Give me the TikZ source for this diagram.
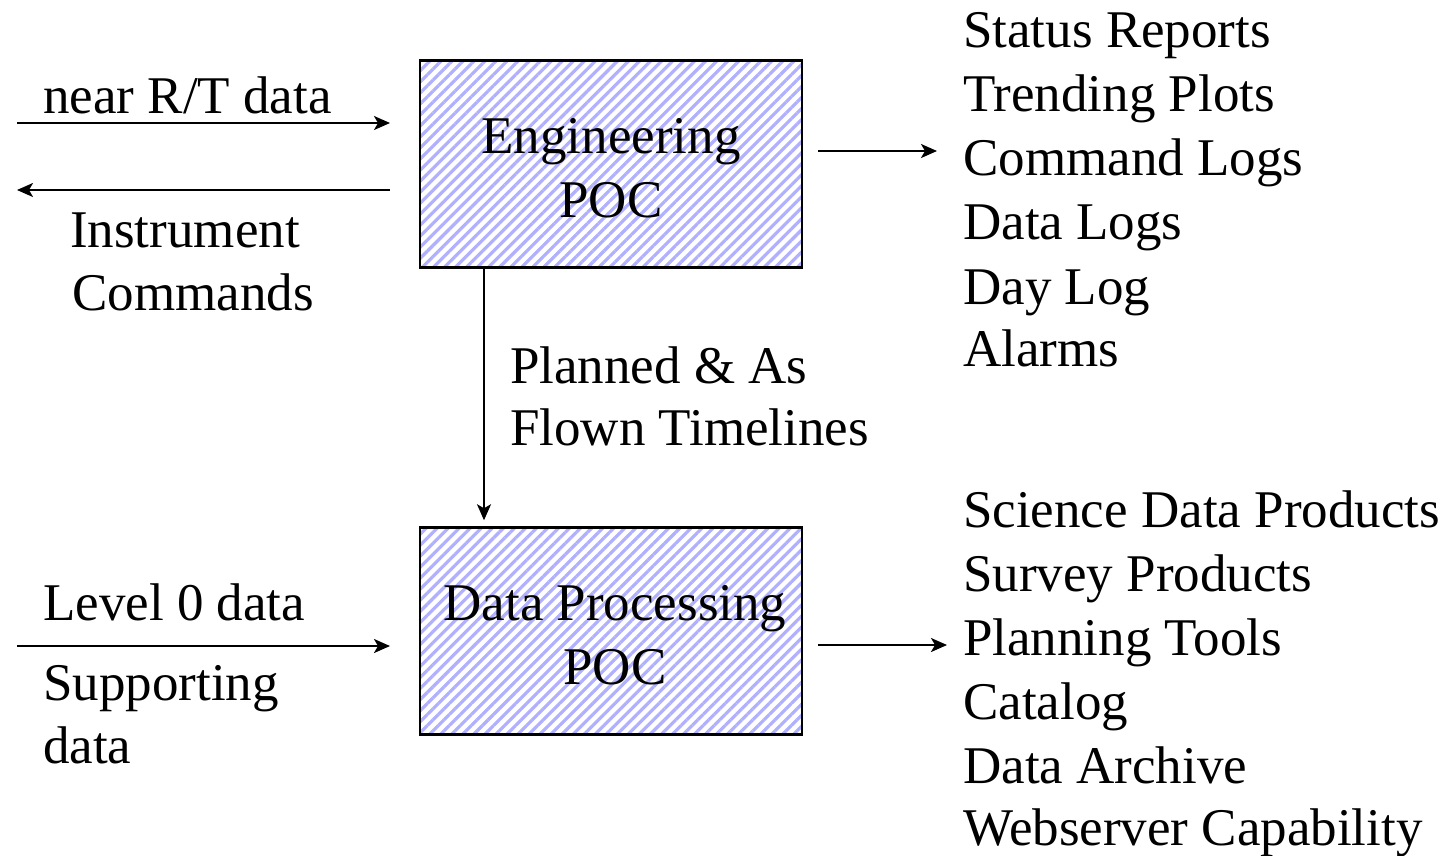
\documentclass[tikz,border=0pt]{standalone}
\usepackage{fontspec}
\setmainfont{Liberation Serif}
\usetikzlibrary{arrows.meta,patterns.meta}
\definecolor{hatch}{RGB}{176,176,255}
\tikzset{
  lbl/.style={anchor=base west,inner sep=0pt,font=\fontsize{53}{64}\selectfont},
  clbl/.style={anchor=base,inner sep=0pt,font=\fontsize{53}{64}\selectfont},
  pocbox/.style={draw,line width=2.5pt,minimum width=382pt,minimum height=207pt,inner sep=0pt,
    pattern={Lines[angle=45,distance=7.8pt,line width=3.2pt]},pattern color=hatch},
  arr/.style={line width=2pt,-{Stealth[length=16pt,width=14pt,inset=4pt]}}
}
\begin{document}
\begin{tikzpicture}[x=1pt,y=-1pt]
\useasboundingbox (0,0) rectangle (1445,855);
% boxes
\node[pocbox] (eng) at (611,164) {};
\node[pocbox] (dp) at (611,631) {};
\node[clbl] (engA) at (611,153) {Engineering};
\node[clbl] (engB) at (611,217) {POC};
\node[clbl] (dpA) at (615,620) {Data Processing};
\node[clbl] (dpB) at (615,684) {POC};
% left upper
\coordinate (inA) at (17,123);
\coordinate (inB) at (390,123);
\coordinate (cmA) at (390,190);
\coordinate (cmB) at (17,190);
\draw[arr] (inA) -- (inB);
\draw[arr] (cmA) -- (cmB);
\node[lbl] (nrt) at (43,113) {near R/T data};
\node[lbl] (ic1) at (70,247) {Instrument};
\node[lbl] (ic2) at (72,310) {Commands};
% right upper
\coordinate (roA) at (818,151);
\coordinate (roB) at (937,151);
\draw[arr] (roA) -- (roB);
\node[lbl] (r1) at (963,47) {Status Reports};
\node[lbl] (r2) at (963,111) {Trending Plots};
\node[lbl] (r3) at (963,175) {Command Logs};
\node[lbl] (r4) at (963,239) {Data Logs};
\node[lbl] (r5) at (963,304) {Day Log};
\node[lbl] (r6) at (963,366) {Alarms};
% vertical
\coordinate (vx) at (484,0);
\draw[arr,shorten >=6pt] (vx |- eng.south) -- (vx |- dp.north);
\node[lbl] (pl1) at (510,383) {Planned \& As};
\node[lbl] (pl2) at (510,445) {Flown Timelines};
% left lower
\coordinate (lvA) at (17,646);
\coordinate (lvB) at (390,646);
\draw[arr] (lvA) -- (lvB);
\node[lbl] (lv) at (43,620) {Level 0 data};
\node[lbl] (sp1) at (43,700) {Supporting};
\node[lbl] (sp2) at (43,763) {data};
% right lower
\coordinate (rlA) at (818,645);
\coordinate (rlB) at (947,645);
\draw[arr] (rlA) -- (rlB);
\node[lbl] (s1) at (963,527) {Science Data Products};
\node[lbl] (s2) at (963,591) {Survey Products};
\node[lbl] (s3) at (963,655) {Planning Tools};
\node[lbl] (s4) at (963,719) {Catalog};
\node[lbl] (s5) at (963,783) {Data Archive};
\node[lbl] (s6) at (963,845) {Webserver Capability};
\end{tikzpicture}
\end{document}
